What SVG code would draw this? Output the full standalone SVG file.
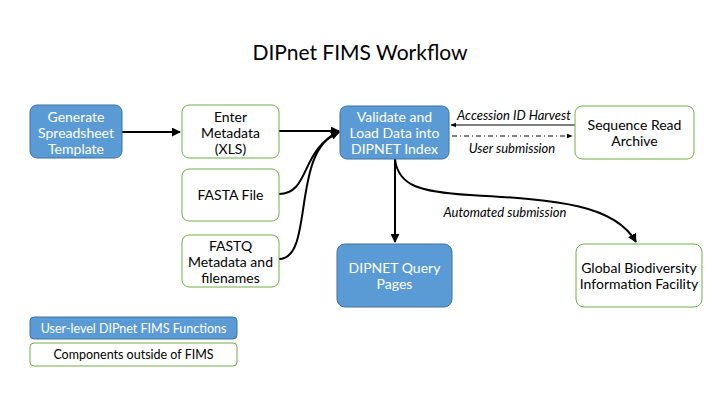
<svg xmlns="http://www.w3.org/2000/svg" width="720" height="405" viewBox="0 0 720 405">
<defs>
<style>
.blue{fill:#5b9bd5;stroke:#41719c;stroke-width:1}
.green{fill:#fff;stroke:#70ad47;stroke-width:1}
.t{font-family:Lato,"Open Sans","Liberation Sans",sans-serif;font-size:14px;text-anchor:middle}
.s{font-size:12.5px}
.w{fill:#fff}
.k{fill:#000}
.lbl{font-family:Lato,"Open Sans","Liberation Sans",sans-serif;font-size:13px;font-style:italic;text-anchor:middle;fill:#000}
.c{fill:none;stroke:#000;stroke-width:2}
.thin{fill:none;stroke:#000;stroke-width:1}
</style>
<marker id="ah" viewBox="0 0 10 10" refX="9" refY="5" markerWidth="4.5" markerHeight="4.5" orient="auto" markerUnits="strokeWidth"><path d="M0,0 L10,5 L0,10 z" fill="#000"/></marker>
<marker id="ahs" viewBox="0 0 10 10" refX="9" refY="5" markerWidth="6" markerHeight="6" orient="auto" markerUnits="strokeWidth"><path d="M0,1 L10,5 L0,9 z" fill="#000"/></marker>
</defs>
<rect width="720" height="405" fill="#fff"/>
<text x="360" y="60" font-family="Lato,'Open Sans','Liberation Sans',sans-serif" font-size="21" text-anchor="middle" fill="#000">DIPnet FIMS Workflow</text>

<g id="connectors">
<path class="c" d="M122,132 L180,132" marker-end="url(#ah)"/>
<path class="c" d="M279,131 C300,131 320,131 339,131" marker-end="url(#ah)"/>
<path class="c" d="M279,194 C310,194 300,150 339,132" marker-end="url(#ah)"/>
<path class="c" d="M279,259 C315,259 290,150 339,132" marker-end="url(#ah)"/>
<path class="thin" d="M575,125 L451,125" marker-end="url(#ahs)"/>
<path class="thin" d="M452,136 L572,136" stroke-dasharray="5,3,1,3" marker-end="url(#ahs)"/>
<path class="c" d="M395,159 L395,242" marker-end="url(#ah)"/>
<path class="c" d="M395,159 C398,186 420,192 470,195 C560,200 615,205 636,242" marker-end="url(#ah)"/>
<text class="lbl" x="514" y="120">Accession ID Harvest</text>
<text class="lbl" x="512" y="153">User submission</text>
<text class="lbl" x="505" y="217">Automated submission</text>
</g>

<g id="generate"><rect class="blue" x="30" y="105" width="92" height="53" rx="7"/>
<text class="t w" x="76" y="121.5">Generate</text><text class="t w" x="76" y="137.5">Spreadsheet</text><text class="t w" x="76" y="153.5">Template</text></g>

<g id="enter"><rect class="green" x="182" y="105" width="97" height="53" rx="7"/>
<text class="t k" x="230.5" y="121.5">Enter</text><text class="t k" x="230.5" y="137.5">Metadata</text><text class="t k" x="230.5" y="153.5">(XLS)</text></g>

<g id="fasta"><rect class="green" x="182" y="169" width="97" height="52" rx="7"/>
<text class="t k" x="230.5" y="200">FASTA File</text></g>

<g id="fastq"><rect class="green" x="182" y="235" width="97" height="52" rx="7"/>
<text class="t k" x="230.5" y="251">FASTQ</text><text class="t k" x="230.5" y="267">Metadata and</text><text class="t k" x="230.5" y="283">filenames</text></g>

<g id="validate"><rect class="blue" x="340" y="106" width="109" height="53" rx="7"/>
<text class="t w" x="394.5" y="122">Validate and</text><text class="t w" x="394.5" y="138">Load Data into</text><text class="t w" x="394.5" y="154">DIPNET Index</text></g>

<g id="sra"><rect class="green" x="575" y="106" width="119" height="53" rx="7"/>
<text class="t k" x="634.5" y="130">Sequence Read</text><text class="t k" x="634.5" y="146">Archive</text></g>

<g id="query"><rect class="blue" x="337" y="244" width="115" height="63" rx="8"/>
<text class="t w" x="394.5" y="273">DIPNET Query</text><text class="t w" x="394.5" y="289">Pages</text></g>

<g id="gbif"><rect class="green" x="576" y="244" width="126" height="63" rx="8"/>
<text class="t k" x="639" y="273">Global Biodiversity</text><text class="t k" x="639" y="289">Information Facility</text></g>

<g id="legend-blue"><rect class="blue" x="30" y="317" width="207" height="22" rx="4"/>
<text class="t s w" x="133.5" y="332.5">User-level DIPnet FIMS Functions</text></g>
<g id="legend-green"><rect class="green" x="30" y="343" width="207" height="23" rx="4"/>
<text class="t s k" x="133.5" y="359">Components outside of FIMS</text></g>
</svg>
